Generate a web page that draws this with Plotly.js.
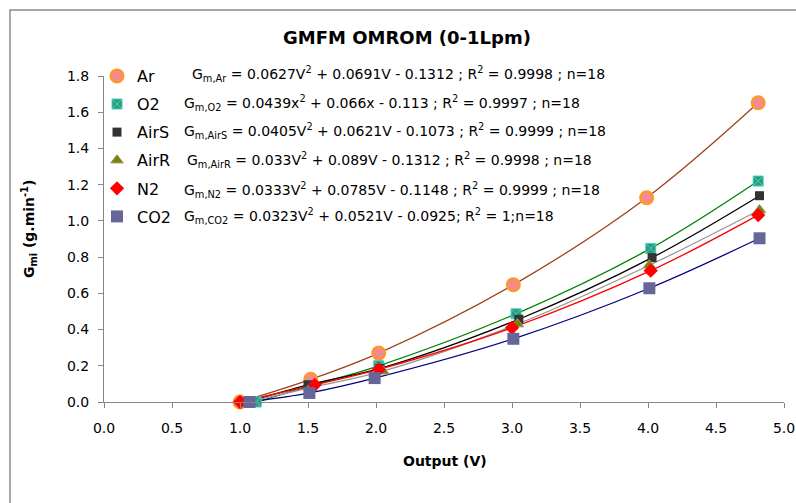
<!DOCTYPE html>
<html>
<head>
<meta charset="utf-8">
<script src="https://cdn.plot.ly/plotly-3.0.1.min.js"></script>
<style>html,body{margin:0;padding:0;background:#fff;}#chart{width:796px;height:503px;}</style>
</head>
<body>
<div id="chart"></div>
<script>
// ---- data ----
const seriesNames = ["Ar", "O2", "AirS", "AirR", "N2", "CO2"];
const xAr   = [1.00, 1.52, 2.02, 3.01, 3.99, 4.81];
const yAr   = [0.00, 0.125, 0.27, 0.647, 1.128, 1.652];
const xO2   = [1.12, 1.52, 2.02, 3.03, 4.02, 4.81];
const yO2   = [0.00, 0.09, 0.20, 0.487, 0.848, 1.22];
const xAirS = [1.05, 1.50, 2.03, 3.05, 4.03, 4.82];
const yAirS = [0.00, 0.095, 0.185, 0.457, 0.797, 1.139];
const xAirR = [1.06, 1.52, 2.05, 3.04, 4.01, 4.82];
const yAirR = [0.00, 0.08, 0.17, 0.43, 0.755, 1.06];
const xN2   = [1.00, 1.55, 2.02, 3.00, 4.02, 4.81];
const yN2   = [0.00, 0.095, 0.18, 0.41, 0.725, 1.032];
const xCO2  = [1.07, 1.51, 1.99, 3.01, 4.01, 4.82];
const yCO2  = [0.00, 0.05, 0.132, 0.349, 0.628, 0.904];
const equations = [
  "G<sub>m,Ar</sub> = 0.0627V<sup>2</sup> + 0.0691V - 0.1312 ; R<sup>2</sup> = 0.9998 ; n=18",
  "G<sub>m,O2</sub> = 0.0439x<sup>2</sup> + 0.066x - 0.113 ; R<sup>2</sup> = 0.9997 ; n=18",
  "G<sub>m,AirS</sub> = 0.0405V<sup>2</sup> + 0.0621V - 0.1073 ; R<sup>2</sup> = 0.9999 ; n=18",
  "G<sub>m,AirR</sub> = 0.033V<sup>2</sup> + 0.089V - 0.1312 ; R<sup>2</sup> = 0.9998 ; n=18",
  "G<sub>m,N2</sub> = 0.0333V<sup>2</sup> + 0.0785V - 0.1148 ; R<sup>2</sup> = 0.9999 ; n=18",
  "G<sub>m,CO2</sub> = 0.0323V<sup>2</sup> + 0.0521V - 0.0925; R<sup>2</sup> = 1;n=18"
];
const titleText = "GMFM OMROM (0-1Lpm)";
const xTitle = "Output (V)";
const yTitle = "G<sub>mi</sub> (g.min<sup>-1</sup>)";

// ---- styling ----
const FONT = "DejaVu Sans, Verdana, sans-serif";
const xs = [xAr, xO2, xAirS, xAirR, xN2, xCO2];
const ys = [yAr, yO2, yAirS, yAirR, yN2, yCO2];
const lineColors = ["#A0401A", "#008000", "#000000", "#969696", "#FF0000", "#000080"];
const markers = [
  {symbol: "circle", size: 13, color: "#F58A8A", line: {color: "#FF9A20", width: 2}},
  {symbol: "square-x", size: 10, color: "#2E9A78", line: {color: "#40D0C8", width: 1}},
  {symbol: "square", size: 9, color: "#333333", line: {width: 0}},
  {symbol: "triangle-up", size: 11, color: "#808000", line: {color: "#9a9a7a", width: 1}},
  {symbol: "diamond", size: 11, color: "#FF0000", line: {width: 0}},
  {symbol: "square", size: 12, color: "#666699", line: {width: 0}}
];

const traces = [];
for (let i = 0; i < 6; i++) {
  traces.push({
    x: xs[i], y: ys[i], type: "scatter", mode: "lines",
    line: {color: lineColors[i], width: 1.3, shape: "spline", smoothing: 1},
    showlegend: false, hoverinfo: "skip", cliponaxis: false
  });
}
for (let i = 0; i < 6; i++) {
  traces.push({
    x: xs[i], y: ys[i], type: "scatter", mode: "markers",
    name: seriesNames[i], legendgroup: "g" + i,
    marker: markers[i], cliponaxis: false
  });
}

const L = 104, R = 12, T = 76, B = 101;
const W = 796, H = 503;
const pw = W - L - R, ph = H - T - B;
const px = v => (v - L) / pw;
const py = v => (H - B - v) / ph;

const eqPos = [[190, 74], [182, 102.5], [182, 131], [185, 160], [182, 189.5], [182, 216]];
const annotations = equations.map((t, i) => ({
  text: t, xref: "paper", yref: "paper", x: px(eqPos[i][0]), y: py(eqPos[i][1]),
  xanchor: "left", yanchor: "middle", showarrow: false,
  font: {family: FONT, size: 14, color: "#000"}
}));
annotations.push({
  text: xTitle, xref: "paper", yref: "paper", x: px(445), y: py(461),
  xanchor: "center", yanchor: "middle", showarrow: false,
  font: {family: FONT, size: 14, color: "#000", weight: "bold"}
});
annotations.push({
  text: yTitle, xref: "paper", yref: "paper", x: px(29), y: py(229),
  xanchor: "center", yanchor: "middle", showarrow: false, textangle: -90,
  font: {family: FONT, size: 14, color: "#000", weight: "bold"}
});

const layout = {
  width: W, height: H,
  margin: {l: L, r: R, t: T, b: B, pad: 0},
  paper_bgcolor: "#fff", plot_bgcolor: "#fff",
  font: {family: FONT, size: 14, color: "#000"},
  title: {text: titleText, xref: "paper", x: px(407), xanchor: "center",
          yref: "container", y: 1 - 38 / H, yanchor: "middle",
          font: {family: FONT, size: 18, color: "#000", weight: "bold"}},
  xaxis: {range: [0, 5], dtick: 0.5, tick0: 0, tickformat: ".1f",
          showgrid: false, zeroline: false, showline: true, linecolor: "#868686", linewidth: 1,
          ticks: "outside", ticklen: 5, tickcolor: "#868686", ticklabelstandoff: 8,
          tickfont: {family: FONT, size: 14, color: "#000"}},
  yaxis: {range: [0, 1.8], dtick: 0.2, tick0: 0, tickformat: ".1f",
          showgrid: false, zeroline: false, showline: true, linecolor: "#868686", linewidth: 1,
          ticks: "outside", ticklen: 5, tickcolor: "#868686", ticklabelstandoff: 6,
          tickfont: {family: FONT, size: 14, color: "#000"}},
  legend: {x: px(97), y: py(59), xanchor: "left", yanchor: "top",
           bgcolor: "rgba(0,0,0,0)", borderwidth: 0, itemwidth: 30,
           tracegroupgap: 4.3, font: {family: FONT, size: 16, color: "#000"}},
  annotations: annotations,
  shapes: [{type: "rect", xref: "paper", yref: "paper",
            x0: px(10), x1: px(810), y0: py(520), y1: py(10),
            line: {color: "#8c8c8c", width: 1.5}, fillcolor: "rgba(0,0,0,0)"}]
};

Plotly.newPlot("chart", traces, layout, {displayModeBar: false, staticPlot: true});
</script>
</body>
</html>
